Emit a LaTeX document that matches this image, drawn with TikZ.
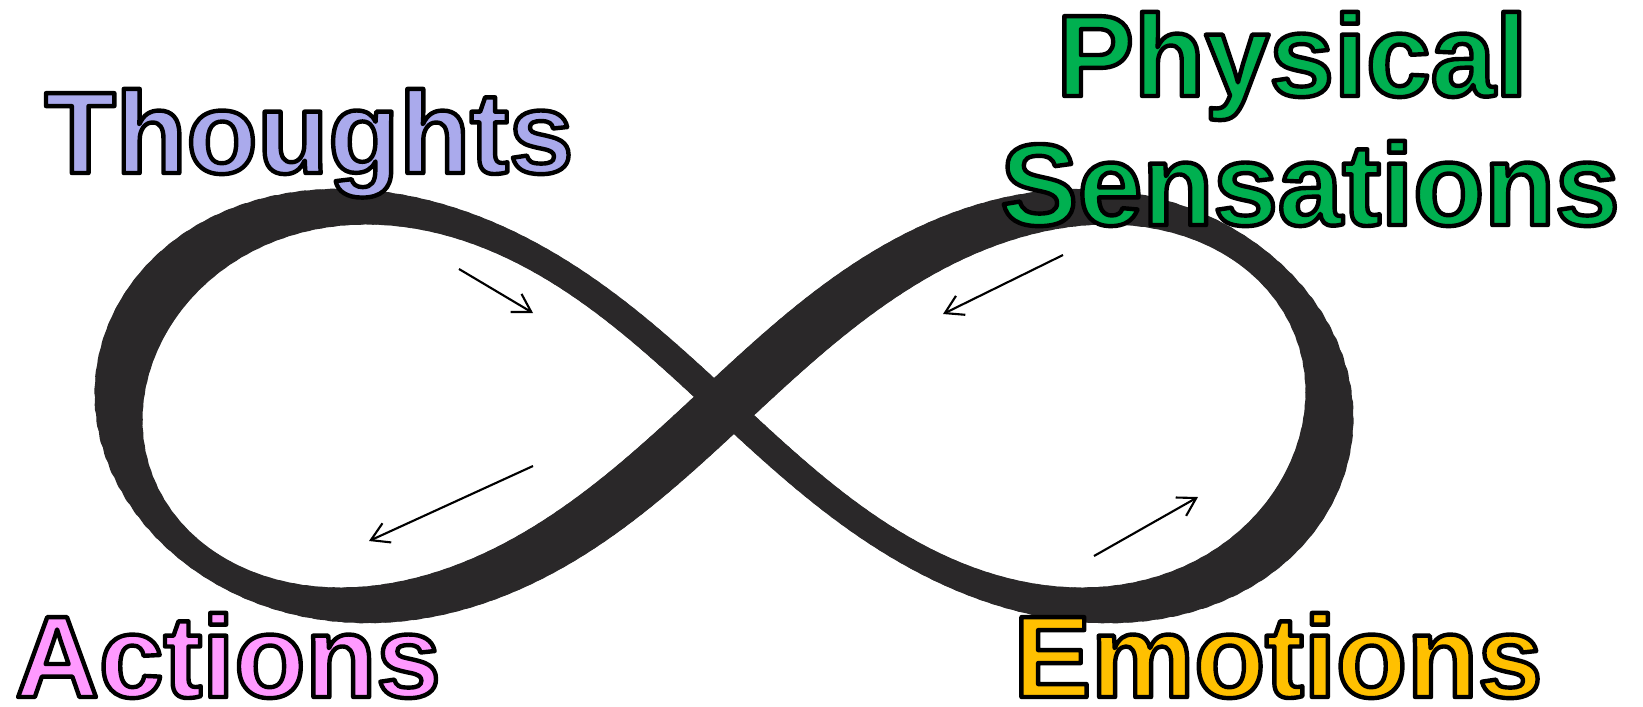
\documentclass[tikz,border=0pt]{standalone}
\usepackage{fontspec}
\setmainfont{Liberation Sans}
\usetikzlibrary{arrows.meta}
\definecolor{infcol}{RGB}{42,40,41}
\definecolor{thoughtcol}{RGB}{170,170,236}
\definecolor{physcol}{RGB}{0,176,80}
\definecolor{actcol}{RGB}{255,153,255}
\definecolor{emocol}{RGB}{255,192,0}
% filled text with a black outline (PDF text render mode 2)
\newcommand\outlinedtext[2]{{\color{#1}\special{pdf:code 0 G 1.25 w 1 j 2 Tr}#2\special{pdf:code 0 Tr}}}
\begin{document}
\begin{tikzpicture}[x=0.01cm,y=-0.01cm,
  word/.style={inner sep=0pt, anchor=base, font=\fontsize{33}{37}\selectfont\bfseries},
  flow/.style={line width=0.6pt, -{Straight Barb[length=5pt,width=6pt]}}]
\useasboundingbox (0,0) rectangle (1643,706);
\fill[white] (0,0) rectangle (1643,706);
% infinity: lemniscate with a width that depends on the stroke direction
\foreach \t in {0,1.5,...,358.5}{
  \pgfmathsetmacro\xa{724+605*cos(\t)/(1+sin(\t)*sin(\t))}
  \pgfmathsetmacro\ya{406+563*sin(\t)*cos(\t)/(1+sin(\t)*sin(\t))}
  \pgfmathsetmacro\xb{724+605*cos(\t+1.5)/(1+sin(\t+1.5)*sin(\t+1.5))}
  \pgfmathsetmacro\yb{406+563*sin(\t+1.5)*cos(\t+1.5)/(1+sin(\t+1.5)*sin(\t+1.5))}
  \pgfmathsetmacro\ddx{\xb-\xa}
  \pgfmathsetmacro\ddy{\ya-\yb}
  \pgfmathsetmacro\nn{\ddx*\ddx+\ddy*\ddy}
  \pgfmathsetmacro\ww{41.5+27*\ddx*\ddy/\nn-6*(\ddx*\ddx-\ddy*\ddy)/\nn}
  \pgfmathsetmacro\lw{\ww*0.2845}
  \draw[infcol, line width=\lw pt, line cap=round] (\xa,\ya) -- (\xb,\yb);
}
% flow arrows
\coordinate (a1s) at (459,269); \coordinate (a1e) at (533,313);
\coordinate (a2s) at (1063,255); \coordinate (a2e) at (943,314);
\coordinate (a3s) at (533,466); \coordinate (a3e) at (369,541);
\coordinate (a4s) at (1094,556); \coordinate (a4e) at (1198,497);
\draw[flow] (a1s) -- (a1e);
\draw[flow] (a2s) -- (a2e);
\draw[flow] (a3s) -- (a3e);
\draw[flow] (a4s) -- (a4e);
% labels
\node[word] (thoughts) at (309,173) {\outlinedtext{thoughtcol}{Thoughts}};
\node[word] (physical) at (1292,96) {\outlinedtext{physcol}{Physical}};
\node[word] (sensations) at (1310,225) {\outlinedtext{physcol}{Sensations}};
\node[word] (actions) at (228,697) {\outlinedtext{actcol}{Actions}};
\node[word] (emotions) at (1278,697) {\outlinedtext{emocol}{Emotions}};
\end{tikzpicture}
\end{document}
